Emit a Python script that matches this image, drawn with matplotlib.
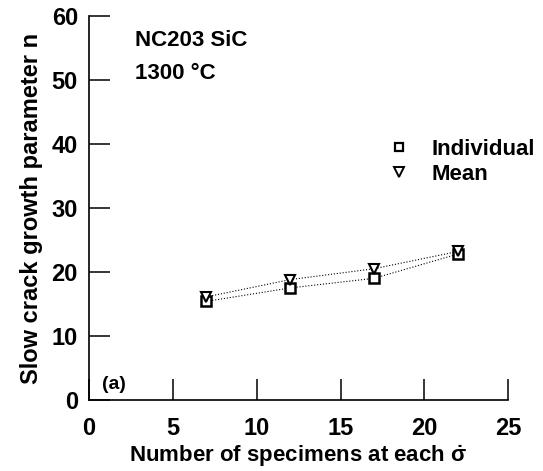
import matplotlib.pyplot as plt
from matplotlib.lines import Line2D

plt.rcParams['font.family'] = ['Liberation Sans', 'DejaVu Sans']
plt.rcParams['font.weight'] = 'bold'
plt.rcParams['mathtext.fontset'] = 'custom'
plt.rcParams['mathtext.rm'] = 'Liberation Sans:bold'
plt.rcParams['mathtext.it'] = 'Liberation Sans:bold'

# data
n_specimens = [7, 12, 17, 22]
n_individual = [15.4, 17.5, 19.0, 22.8]
n_mean = [16.1, 18.8, 20.5, 23.2]

fig = plt.figure(figsize=(5.43, 4.71), dpi=100)
ax = fig.add_axes([0.164, 0.151, 0.772, 0.815])

ax.plot(n_specimens, n_individual, linestyle=':', color='black', linewidth=0.8,
        marker='s', markersize=6.5, markerfacecolor='white', markeredgecolor='black', markeredgewidth=1.8)
ax.plot(n_specimens, n_mean, linestyle=':', color='black', linewidth=0.8,
        marker='v', markersize=7.5, markerfacecolor='white', markeredgecolor='black', markeredgewidth=1.5)

ax.set_xlim(0, 25)
ax.set_ylim(0, 60)
ax.set_xticks([0, 5, 10, 15, 20, 25])
ax.set_yticks([0, 10, 20, 30, 40, 50, 60])
ax.spines['top'].set_visible(False)
ax.spines['right'].set_visible(False)
ax.spines['left'].set_linewidth(1.2)
ax.spines['bottom'].set_linewidth(1.2)
ax.tick_params(direction='in', length=15, width=1.1, labelsize=17)
ax.tick_params(axis='x', pad=12)
ax.tick_params(axis='y', pad=8)
for lab in ax.get_xticklabels() + ax.get_yticklabels():
    lab.set_fontweight('bold')

ax.set_xlabel(r'Number of specimens at each $\dot{\sigma}$', fontsize=16, fontweight='bold')
ax.xaxis.set_label_coords(0.5, -0.112)
ax.set_ylabel('Slow crack growth parameter n', fontsize=17, fontweight='bold', labelpad=6)

ax.text(0.11, 0.935, 'NC203 SiC', transform=ax.transAxes, fontsize=16, fontweight='bold', va='center')
ax.text(0.11, 0.85, '1300 °C', transform=ax.transAxes, fontsize=16, fontweight='bold', va='center')
ax.text(0.03, 0.04, '(a)', transform=ax.transAxes, fontsize=14, fontweight='bold', va='center')

handles = [Line2D([], [], linestyle='none', marker='s', markersize=6, markerfacecolor='white',
                  markeredgecolor='black', markeredgewidth=1.6),
           Line2D([], [], linestyle='none', marker='v', markersize=6.5, markerfacecolor='white',
                  markeredgecolor='black', markeredgewidth=1.4)]
ax.legend(handles, ['Individual', 'Mean'], loc='center left', bbox_to_anchor=(0.665, 0.62),
          frameon=False, handlelength=1.0, handletextpad=0.95, labelspacing=0.15,
          prop={'size': 16, 'weight': 'bold'})

fig.savefig('out.png', dpi=100)
